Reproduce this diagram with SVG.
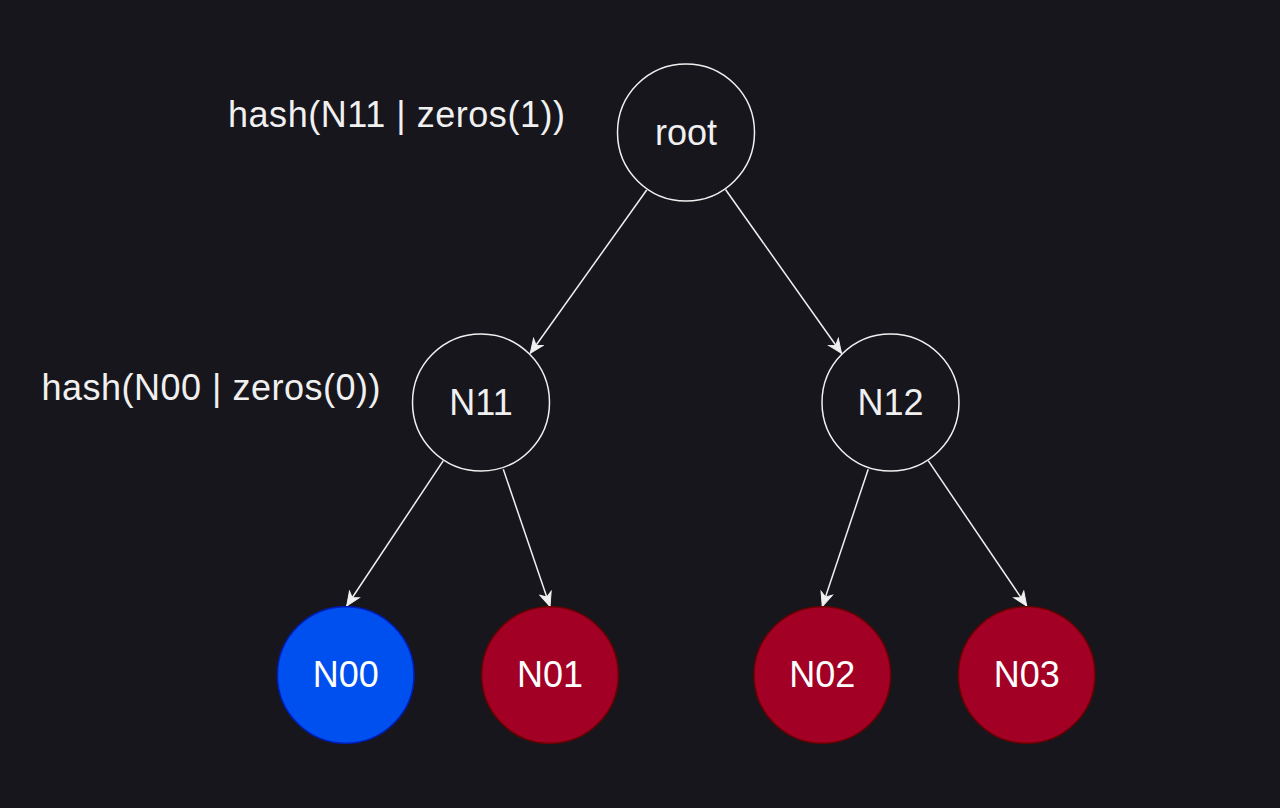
<svg xmlns="http://www.w3.org/2000/svg" width="1280" height="808" viewBox="0 0 1280 808">
<style>
.bg{fill:#18161d}
.plain{fill:#18161d;stroke:#f0f0f0;stroke-width:1.5}
.blue{fill:#0050ef;stroke:#001dbc;stroke-width:1.5}
.red{fill:#a20025;stroke:#6f0000;stroke-width:1.5}
.t{font-family:"Liberation Sans",Arial,Helvetica,sans-serif;font-size:36px;fill:#f0f0f0}
.n{text-anchor:middle}
.w{fill:#ffffff}
.e{stroke:#f0f0f0;stroke-width:1.5;fill:none;marker-end:url(#arr)}
</style>
<defs>
<marker id="arr" markerUnits="userSpaceOnUse" markerWidth="16" markerHeight="14" viewBox="0 0 16 14" refX="15" refY="7" orient="auto">
<path d="M1,1 L15,7 L1,13 L5,7 Z" fill="#f0f0f0" stroke="#f0f0f0" stroke-width="1"/>
</marker>
</defs>
<rect class="bg" x="0" y="0" width="1280" height="808"/>
<g id="connectors">
<line class="e" x1="646.7" y1="190" x2="530.3" y2="353.3"/>
<line class="e" x1="725.5" y1="189.5" x2="841.5" y2="353.3"/>
<line class="e" x1="443.3" y1="460.7" x2="346.7" y2="606"/>
<line class="e" x1="503.3" y1="469.3" x2="550" y2="606.5"/>
<line class="e" x1="868.2" y1="469.3" x2="822.3" y2="606.5"/>
<line class="e" x1="928.2" y1="460.7" x2="1026.7" y2="606"/>
</g>
<g id="label-root">
<text class="t" x="228" y="126.7" textLength="337" lengthAdjust="spacing">hash(N11 | zeros(1))</text>
</g>
<g id="label-n11">
<text class="t" x="41.5" y="400" textLength="339" lengthAdjust="spacing">hash(N00 | zeros(0))</text>
</g>
<g id="node-root">
<circle class="plain" cx="686" cy="132.5" r="68.5"/>
<text class="t n" x="686" y="145">root</text>
</g>
<g id="node-N11">
<circle class="plain" cx="481" cy="402.5" r="68.5"/>
<text class="t n" x="481" y="415">N11</text>
</g>
<g id="node-N12">
<circle class="plain" cx="890.5" cy="402.5" r="68.5"/>
<text class="t n" x="890.5" y="415">N12</text>
</g>
<g id="node-N00">
<circle class="blue" cx="345.7" cy="675" r="68.3"/>
<text class="t n w" x="345.7" y="687">N00</text>
</g>
<g id="node-N01">
<circle class="red" cx="550" cy="675" r="68.3"/>
<text class="t n w" x="550" y="687">N01</text>
</g>
<g id="node-N02">
<circle class="red" cx="822.3" cy="675" r="68.3"/>
<text class="t n w" x="822.3" y="687">N02</text>
</g>
<g id="node-N03">
<circle class="red" cx="1026.7" cy="675" r="68.3"/>
<text class="t n w" x="1026.7" y="687">N03</text>
</g>
</svg>
